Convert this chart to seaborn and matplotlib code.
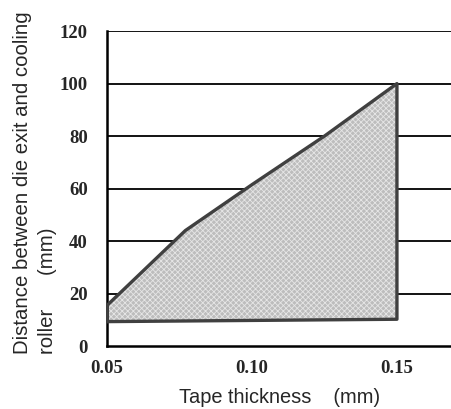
import pandas as pd
import seaborn as sns
import matplotlib.pyplot as plt

# boundary of the workable region (closed polygon)
thickness = [0.05, 0.05, 0.077, 0.10, 0.125, 0.15, 0.15, 0.05]
distance = [9.3, 15.5, 44.0, 61.5, 80.0, 100.0, 10.2, 9.3]
xticks = [0.05, 0.10, 0.15]
yticks = [0, 20, 40, 60, 80, 100, 120]

df = pd.DataFrame({'thickness': thickness, 'distance': distance})

sns.set_style('white')
plt.rcParams['hatch.linewidth'] = 0.6
fig = plt.figure(figsize=(4.52, 4.09), dpi=100)
ax = fig.add_axes([0.237, 0.154, 0.763, 0.770])

for y in yticks[1:]:
    ax.axhline(y, color='black', lw=1.3, zorder=1)

ax.fill(df['thickness'], df['distance'], facecolor='#bdbdbd', edgecolor='#e6e6e6',
        hatch='xxxxxx', lw=0, zorder=2)
sns.lineplot(data=df, x='thickness', y='distance', sort=False, estimator=None,
             color='#404040', lw=2.4, ax=ax, zorder=3)

ax.set_xlim(0.05, 0.169)
ax.set_ylim(0, 120)
ax.set_xticks(xticks)
ax.set_xticklabels(['0.05', '0.10', '0.15'])
ax.set_yticks(yticks)
ax.set_yticklabels([str(v) for v in yticks])
for lab in ax.get_xticklabels() + ax.get_yticklabels():
    lab.set_fontfamily('Liberation Serif')
    lab.set_fontweight('bold')
    lab.set_fontsize(13.5)
ax.tick_params(axis='x', direction='in', length=5, width=1.3, color='black', pad=10)
ax.tick_params(axis='y', length=0, pad=14)

for s in ['top', 'right']:
    ax.spines[s].set_visible(False)
for s in ['left', 'bottom']:
    ax.spines[s].set_color('black')
    ax.spines[s].set_linewidth(1.8)

ax.set_xlabel('Tape thickness    (mm)', fontfamily='Liberation Sans', fontsize=14.4, labelpad=8)
ax.set_ylabel('Distance between die exit and cooling\nroller      (mm)',
              fontfamily='Liberation Sans', fontsize=14.7, multialignment='left',
              linespacing=1.4)
ax.yaxis.set_label_coords(-0.145, 0.52)

fig.savefig('out.png', dpi=100)
